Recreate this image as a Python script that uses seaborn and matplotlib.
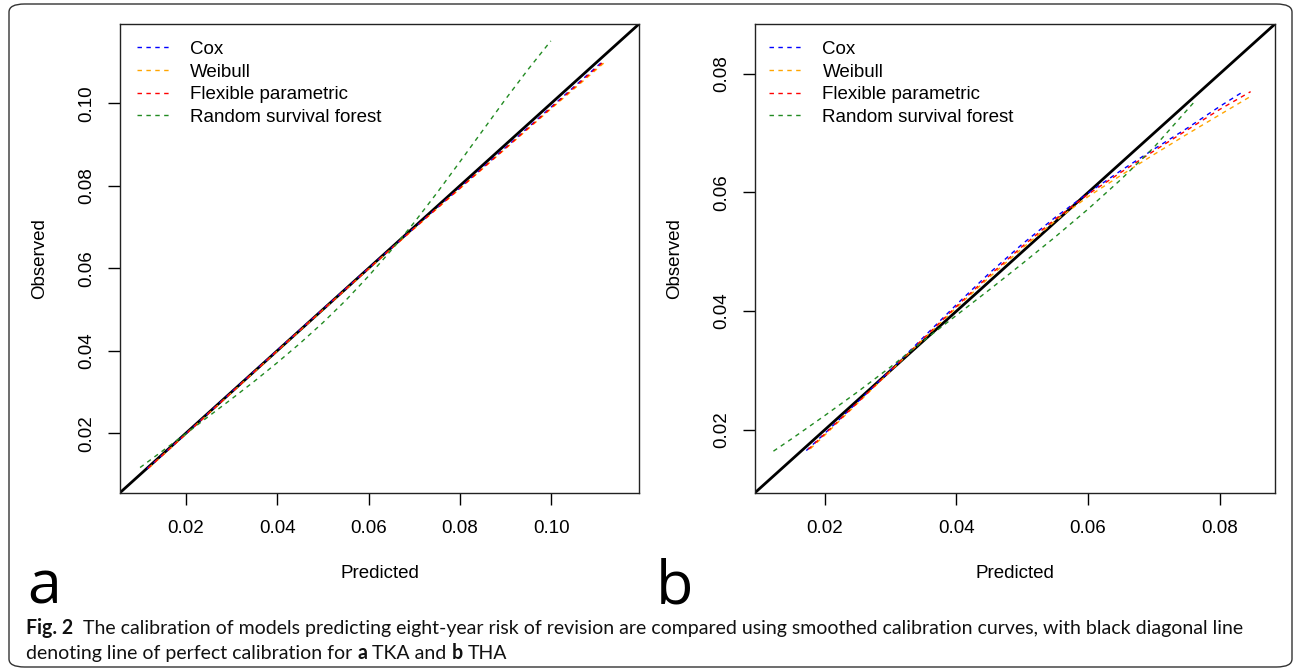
import numpy as np
import pandas as pd
import matplotlib
matplotlib.use("Agg")
import matplotlib.pyplot as plt
import seaborn as sns
from matplotlib import font_manager
from matplotlib.patches import FancyBboxPatch

# ---------------- data ----------------
models = ["Cox", "Weibull", "Flexible parametric", "Random survival forest"]
colors = ["#0000FF", "#FFA500", "#FF0000", "#228B22"]

# Panel a (TKA)
a_cox_x = [0.0115, 0.020, 0.030, 0.040, 0.050, 0.060, 0.070, 0.080, 0.090, 0.100, 0.1109]
a_cox_y = [0.0114, 0.0199, 0.0300, 0.0401, 0.0501, 0.0600, 0.0698, 0.0795, 0.0893, 0.0991, 0.1098]
a_wei_x = [0.0119, 0.020, 0.030, 0.040, 0.050, 0.060, 0.070, 0.080, 0.090, 0.100, 0.1122]
a_wei_y = [0.0116, 0.0198, 0.0298, 0.0399, 0.0499, 0.0598, 0.0696, 0.0793, 0.0890, 0.0987, 0.1104]
a_flex_x = [0.0117, 0.020, 0.030, 0.040, 0.050, 0.060, 0.070, 0.080, 0.090, 0.100, 0.1115]
a_flex_y = [0.0115, 0.0198, 0.0299, 0.0400, 0.0500, 0.0599, 0.0697, 0.0794, 0.0891, 0.0989, 0.1101]
a_rsf_x = [0.0100, 0.015, 0.020, 0.025, 0.030, 0.035, 0.040, 0.045, 0.050, 0.055,
           0.060, 0.065, 0.070, 0.075, 0.080, 0.085, 0.090, 0.095, 0.0999]
a_rsf_y = [0.0117, 0.0158, 0.0199, 0.0241, 0.0283, 0.0326, 0.0371, 0.0418, 0.0468, 0.0522,
           0.0581, 0.0644, 0.0711, 0.0783, 0.0858, 0.0934, 0.1010, 0.1083, 0.1151]

# Panel b (THA)
b_cox_x = [0.0172, 0.020, 0.025, 0.030, 0.035, 0.040, 0.045, 0.050, 0.055, 0.060,
           0.065, 0.070, 0.075, 0.080, 0.0837]
b_cox_y = [0.0165, 0.0194, 0.0247, 0.0301, 0.0356, 0.0411, 0.0464, 0.0513, 0.0558, 0.0599,
           0.0637, 0.0673, 0.0708, 0.0745, 0.0771]
b_wei_x = [0.0178, 0.020, 0.025, 0.030, 0.035, 0.040, 0.045, 0.050, 0.055, 0.060,
           0.065, 0.070, 0.075, 0.080, 0.0850]
b_wei_y = [0.0168, 0.0191, 0.0245, 0.0299, 0.0353, 0.0406, 0.0457, 0.0506, 0.0552, 0.0593,
           0.0629, 0.0664, 0.0698, 0.0731, 0.0764]
b_flex_x = [0.0175, 0.020, 0.025, 0.030, 0.035, 0.040, 0.045, 0.050, 0.055, 0.060,
            0.065, 0.070, 0.075, 0.080, 0.0847]
b_flex_y = [0.0167, 0.0193, 0.0246, 0.0300, 0.0354, 0.0408, 0.0460, 0.0509, 0.0555, 0.0597,
            0.0634, 0.0670, 0.0705, 0.0740, 0.0770]
b_rsf_x = [0.0122, 0.015, 0.020, 0.025, 0.030, 0.035, 0.040, 0.045, 0.050, 0.055,
           0.060, 0.065, 0.070, 0.0764]
b_rsf_y = [0.0164, 0.0185, 0.0224, 0.0264, 0.0306, 0.0350, 0.0393, 0.0436, 0.0480, 0.0525,
           0.0572, 0.0622, 0.0676, 0.0756]

a_ticks = [0.02, 0.04, 0.06, 0.08, 0.10]
a_ticklabels = ["0.02", "0.04", "0.06", "0.08", "0.10"]
b_ticks = [0.02, 0.04, 0.06, 0.08]
b_ticklabels = ["0.02", "0.04", "0.06", "0.08"]
a_lim = (0.0056, 0.1192)
b_lim = (0.0094, 0.0884)

xlabel = "Predicted"
ylabel = "Observed"
caption_runs_1 = [("Fig. 2", True), ("  The calibration of models predicting eight-year risk of revision are compared using smoothed calibration curves, with black diagonal line", False)]
caption_runs_2 = [("denoting line of perfect calibration for ", False), ("a", True), (" TKA and ", False), ("b", True), (" THA", False)]

# ---------------- style ----------------
sns.set_theme(style="white")
names = {f.name for f in font_manager.fontManager.ttflist}
axfont = "Liberation Sans" if "Liberation Sans" in names else "DejaVu Sans"
if "Liberation Sans Narrow" in names:
    capfont = "Liberation Sans Narrow"
elif "Lato" in names:
    capfont = "Lato"
elif "Open Sans" in names:
    capfont = "Open Sans"
else:
    capfont = "DejaVu Sans"
lblfont = "Open Sans" if "Open Sans" in names else "DejaVu Sans"
plt.rcParams["font.family"] = [axfont, "DejaVu Sans"]

W, H = 1295, 672
fig = plt.figure(figsize=(W / 100, H / 100), dpi=100)
fig.patch.set_facecolor("white")

def px_rect(l, t, r, b):
    return [l / W, 1 - b / H, (r - l) / W, (b - t) / H]

ax_a = fig.add_axes(px_rect(120, 24, 639, 492.7))
ax_b = fig.add_axes(px_rect(755, 24, 1275, 492.7))

FS = 13.5
dash = (0, (3.2, 3.2))

def draw_panel(ax, series, lim, ticks, ticklabels, leg_anchor, hl, htp):
    for (xs, ys), name, col in zip(series, models, colors):
        df = pd.DataFrame({"x": xs, "y": ys})
        sns.lineplot(data=df, x="x", y="y", ax=ax, color=col, lw=1.0,
                     linestyle=dash, label=name, sort=False, estimator=None)
    ax.axline((lim[0], lim[0]), slope=1, color="black", lw=2.0, zorder=1)
    ax.set_xlim(*lim)
    ax.set_ylim(*lim)
    ax.set_xticks(ticks)
    ax.set_xticklabels(ticklabels)
    ax.set_yticks(ticks)
    ax.set_yticklabels(ticklabels)
    for lab in ax.get_yticklabels():
        lab.set_rotation(90)
        lab.set_va("center")
    ax.tick_params(axis="both", direction="out", length=8.5, width=1.0, color="black",
                   labelsize=FS, labelcolor="black", pad=9, bottom=True, left=True)
    ax.tick_params(axis="x", pad=11)
    for sp in ax.spines.values():
        sp.set_visible(True)
        sp.set_color("#222222")
        sp.set_linewidth(1.0)
    ax.set_xlabel(xlabel, fontsize=FS, color="black", labelpad=20)
    ax.set_ylabel(ylabel, fontsize=FS, color="black", labelpad=22)
    ax.set_facecolor("white")
    leg = ax.legend(loc="upper left", bbox_to_anchor=leg_anchor, frameon=False,
                    fontsize=FS, handlelength=hl, handletextpad=htp,
                    labelspacing=0.29, borderpad=0, borderaxespad=0)
    for t in leg.get_texts():
        t.set_color("black")

draw_panel(ax_a, [(a_cox_x, a_cox_y), (a_wei_x, a_wei_y), (a_flex_x, a_flex_y), (a_rsf_x, a_rsf_y)],
           a_lim, a_ticks, a_ticklabels, (0.033, 0.964), 1.75, 1.05)
draw_panel(ax_b, [(b_cox_x, b_cox_y), (b_wei_x, b_wei_y), (b_flex_x, b_flex_y), (b_rsf_x, b_rsf_y)],
           b_lim, b_ticks, b_ticklabels, (0.027, 0.964), 1.85, 1.0)

# panel letters
fig.text(27 / W, 1 - 603 / H, "a", fontsize=44, family=lblfont, color="black", va="baseline", ha="left")
fig.text(656 / W, 1 - 603 / H, "b", fontsize=44, family=lblfont, color="black", va="baseline", ha="left")

# caption with mixed bold runs
r = fig.canvas.get_renderer()

def run_width(s, size, bold):
    t = fig.text(0, 0, s, fontsize=size, family=capfont, fontweight="bold" if bold else "normal")
    w = t.get_window_extent(r).width if s.strip() else 0
    t.remove()
    return w

def space_width(size, bold):
    return run_width("a a", size, bold) - run_width("aa", size, bold)

def line_width(runs, size):
    total = 0
    for s, b in runs:
        core = s.strip(" ")
        lead = len(s) - len(s.lstrip(" "))
        trail = len(s) - len(s.rstrip(" "))
        total += (lead + trail) * space_width(size, b) + run_width(core, size, b)
    return total

base = 12.0
w0 = line_width(caption_runs_1, base)
cap_size = base * (1214.0 / w0)

def draw_runs(runs, x_px, y_px, size):
    x = x_px
    for s, b in runs:
        core = s.strip(" ")
        lead = len(s) - len(s.lstrip(" "))
        trail = len(s) - len(s.rstrip(" "))
        sw = space_width(size, b)
        x += lead * sw
        fig.text(x / W, 1 - y_px / H, core, fontsize=size, family=capfont,
                 fontweight="bold" if b else "normal", color="#111111",
                 va="baseline", ha="left")
        x += run_width(core, size, b) + trail * sw

draw_runs(caption_runs_1, 26, 634, cap_size)
draw_runs(caption_runs_2, 26, 659, cap_size)

# outer rounded frame
frame = FancyBboxPatch((9 / W, 5 / H), (1292 - 9) / W, (668 - 5) / H,
                       boxstyle="round,pad=0,rounding_size=0.012",
                       transform=fig.transFigure, fill=False, edgecolor="#333333",
                       linewidth=1.0, zorder=0)
fig.patches.append(frame)

fig.savefig("out.png", dpi=100, facecolor="white")
